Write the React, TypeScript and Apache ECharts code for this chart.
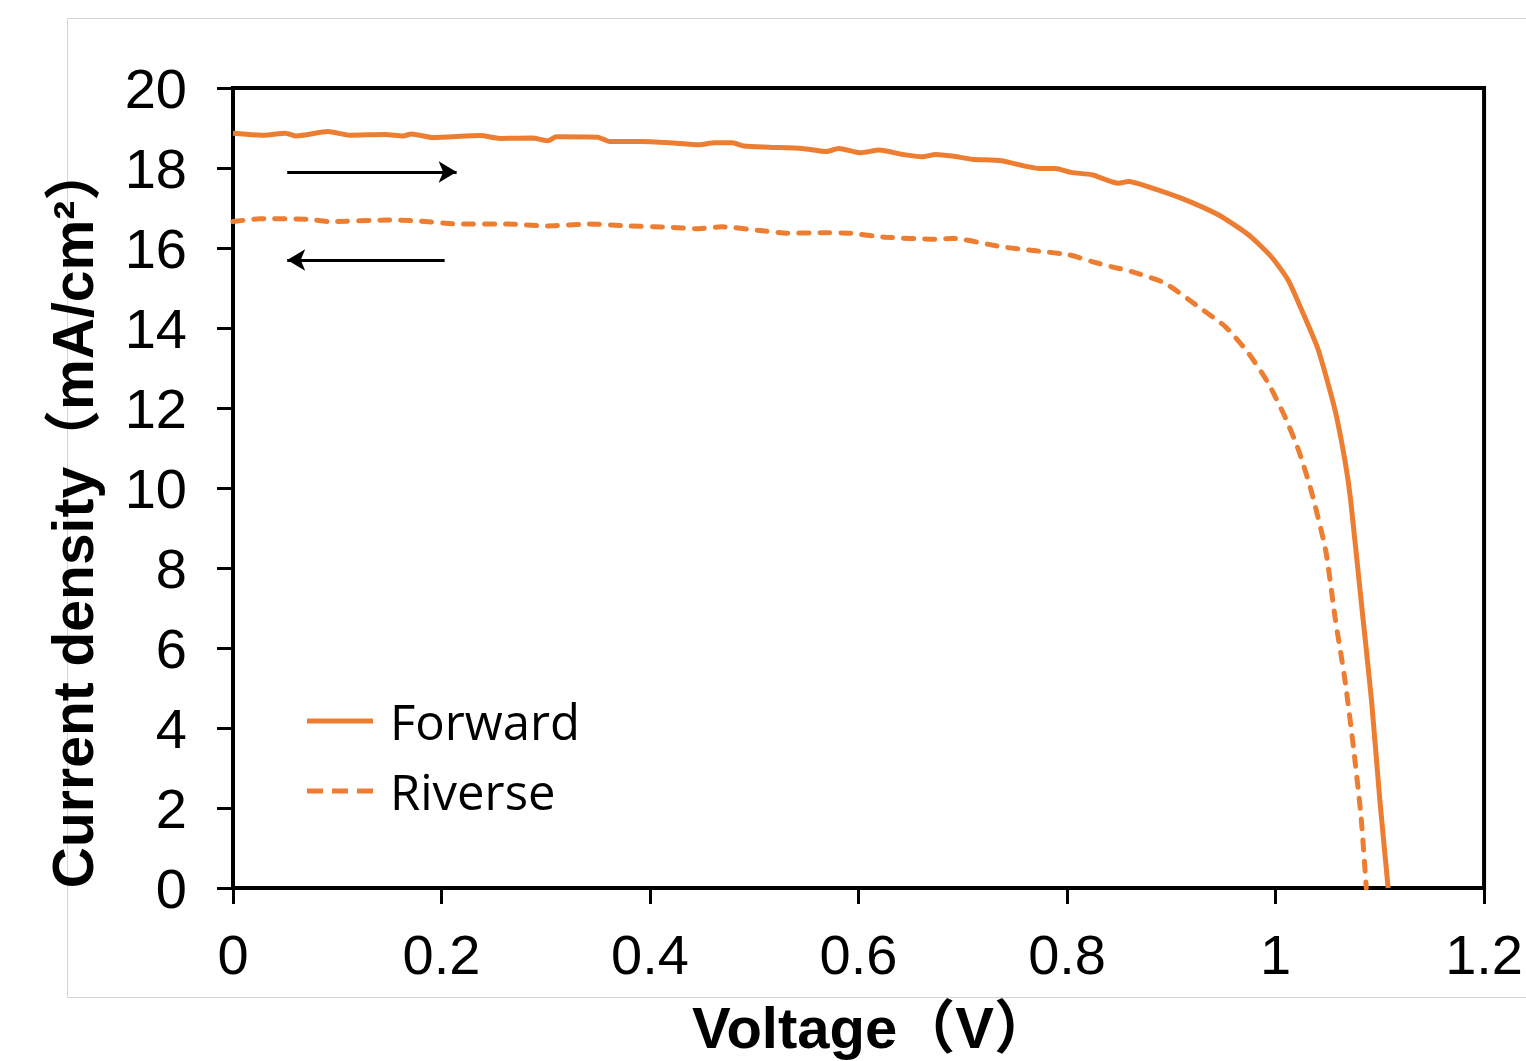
import React, { useEffect, useRef } from "react";
import * as echarts from "echarts";

const forwardV = [0.0, 0.029, 0.05, 0.061, 0.091, 0.112, 0.146, 0.163, 0.171, 0.192, 0.237, 0.256, 0.287, 0.302, 0.31, 0.35, 0.361, 0.39, 0.419, 0.447, 0.462, 0.479, 0.49, 0.514, 0.546, 0.569, 0.581, 0.602, 0.62, 0.642, 0.661, 0.674, 0.69, 0.709, 0.737, 0.773, 0.789, 0.804, 0.824, 0.849, 0.859, 0.878, 0.91, 0.945, 0.974, 0.996, 1.012, 1.025, 1.041, 1.057, 1.067, 1.072, 1.082, 1.092, 1.1, 1.108];
const forwardJ = [18.87, 18.82, 18.87, 18.8, 18.91, 18.82, 18.84, 18.8, 18.85, 18.76, 18.81, 18.74, 18.75, 18.68, 18.78, 18.77, 18.66, 18.66, 18.63, 18.58, 18.63, 18.63, 18.55, 18.52, 18.49, 18.41, 18.49, 18.38, 18.45, 18.34, 18.28, 18.34, 18.3, 18.22, 18.18, 17.99, 17.99, 17.89, 17.83, 17.62, 17.66, 17.53, 17.24, 16.83, 16.33, 15.78, 15.2, 14.45, 13.45, 11.95, 10.62, 9.7, 7.2, 4.7, 2.2, 0];

const reverseV = [0.0, 0.026, 0.071, 0.093, 0.15, 0.176, 0.217, 0.262, 0.301, 0.342, 0.38, 0.419, 0.444, 0.469, 0.508, 0.531, 0.569, 0.591, 0.626, 0.674, 0.69, 0.737, 0.77, 0.802, 0.824, 0.843, 0.862, 0.894, 0.926, 0.952, 0.974, 0.993, 1.009, 1.022, 1.034, 1.048, 1.057, 1.067, 1.075, 1.082, 1.087];
const reverseJ = [16.66, 16.73, 16.72, 16.66, 16.7, 16.68, 16.6, 16.6, 16.55, 16.6, 16.55, 16.52, 16.48, 16.53, 16.43, 16.37, 16.38, 16.37, 16.27, 16.22, 16.24, 16.03, 15.93, 15.83, 15.66, 15.53, 15.41, 15.12, 14.53, 14.03, 13.37, 12.62, 11.78, 10.95, 9.95, 8.45, 6.78, 5.12, 3.45, 1.78, 0];

const seriesNames = ["Forward", "Riverse"];
const xTitle = "Voltage（V）";
const yTitle = "Current density（mA/cm²）";

// scan-direction arrows: [startV, endV, J]
const arrowRight = [0.052, 0.2145, 17.9];
const arrowLeft = [0.203, 0.052, 15.7];

const ORANGE = "#ED7D31";
const FONT = "'Liberation Sans', Arial, 'Noto Sans CJK SC', sans-serif";
const SOLID_ICON = "path://M0,0H66V5H0Z";
const DASH_ICON = "path://M0,0H16V5H0Z M25,0H41V5H25Z M50,0H66V5H50Z";

export default function App() {
  const ref = useRef<HTMLDivElement>(null);
  useEffect(() => {
    if (!ref.current) return;
    const chart = echarts.init(ref.current, null, { renderer: "svg" });
    const fwd = forwardV.map((v, i) => [v, forwardJ[i]]);
    const rev = reverseV.map((v, i) => [v, reverseJ[i]]);
    chart.setOption({
      animation: false,
      backgroundColor: "#fff",
      grid: {
        left: 233,
        top: 88,
        right: 38,
        bottom: 173,
        show: true,
        borderColor: "#000",
        borderWidth: 4,
      },
      legend: {
        orient: "vertical",
        left: 302,
        top: 690,
        itemWidth: 66,
        itemHeight: 5,
        itemGap: 18,
        itemStyle: { borderWidth: 0 },
        textStyle: {
          fontFamily: "'Open Sans', Lato, sans-serif",
          fontSize: 49,
          lineHeight: 52,
          color: "#000",
          padding: [0, 0, 0, 12],
        },
        data: [
          { name: seriesNames[0], icon: SOLID_ICON },
          { name: seriesNames[1], icon: DASH_ICON },
        ],
      },
      xAxis: {
        type: "value",
        min: 0,
        max: 1.2,
        interval: 0.2,
        splitLine: { show: false },
        axisLine: { show: true, onZero: false, lineStyle: { color: "#000", width: 4 } },
        axisTick: { show: true, length: 16, lineStyle: { color: "#000", width: 3 } },
        axisLabel: { fontFamily: FONT, fontSize: 56, color: "#000", margin: 38 },
      },
      yAxis: {
        type: "value",
        min: 0,
        max: 20,
        interval: 2,
        splitLine: { show: false },
        axisLine: { show: true, onZero: false, lineStyle: { color: "#000", width: 4 } },
        axisTick: { show: true, length: 16, lineStyle: { color: "#000", width: 3 } },
        axisLabel: { fontFamily: FONT, fontSize: 56, color: "#000", margin: 46 },
      },
      series: [
        {
          name: seriesNames[0],
          type: "line",
          data: fwd,
          symbol: "none",
          smooth: 0.2,
          lineStyle: { color: ORANGE, width: 5 },
          itemStyle: { color: ORANGE },
          markLine: {
            silent: true,
            symbol: ["none", "arrow"],
            symbolSize: [16, 18],
            label: { show: false },
            lineStyle: { color: "#000", width: 3, type: "solid" },
            data: [
              [
                { coord: [arrowRight[0], arrowRight[2]] },
                { coord: [arrowRight[1], arrowRight[2]] },
              ],
              [
                { coord: [arrowLeft[0], arrowLeft[2]] },
                { coord: [arrowLeft[1], arrowLeft[2]] },
              ],
            ],
          },
        },
        {
          name: seriesNames[1],
          type: "line",
          data: rev,
          symbol: "none",
          smooth: 0.2,
          lineStyle: { color: ORANGE, width: 5, type: [10, 11], cap: "round" },
          itemStyle: { color: ORANGE },
        },
      ],
      graphic: [
        {
          type: "rect",
          z: -10,
          silent: true,
          shape: { x: 67.5, y: 18.5, width: 1470, height: 979 },
          style: { fill: "none", stroke: "#d4d4d4", lineWidth: 1 },
        },
        {
          type: "text",
          x: 73,
          y: 516,
          rotation: Math.PI / 2,
          style: {
            text: yTitle,
            font: `bold 57px ${FONT}`,
            fill: "#000",
            align: "center",
            verticalAlign: "middle",
          },
        },
        {
          type: "text",
          x: 872,
          y: 1027,
          style: {
            text: xTitle,
            font: `bold 58px ${FONT}`,
            fill: "#000",
            align: "center",
            verticalAlign: "middle",
          },
        },
      ],
    });
    return () => chart.dispose();
  }, []);
  return (
    <div
      ref={ref}
      style={{ position: "absolute", left: 0, top: 0, width: 1526, height: 1061 }}
    />
  );
}
